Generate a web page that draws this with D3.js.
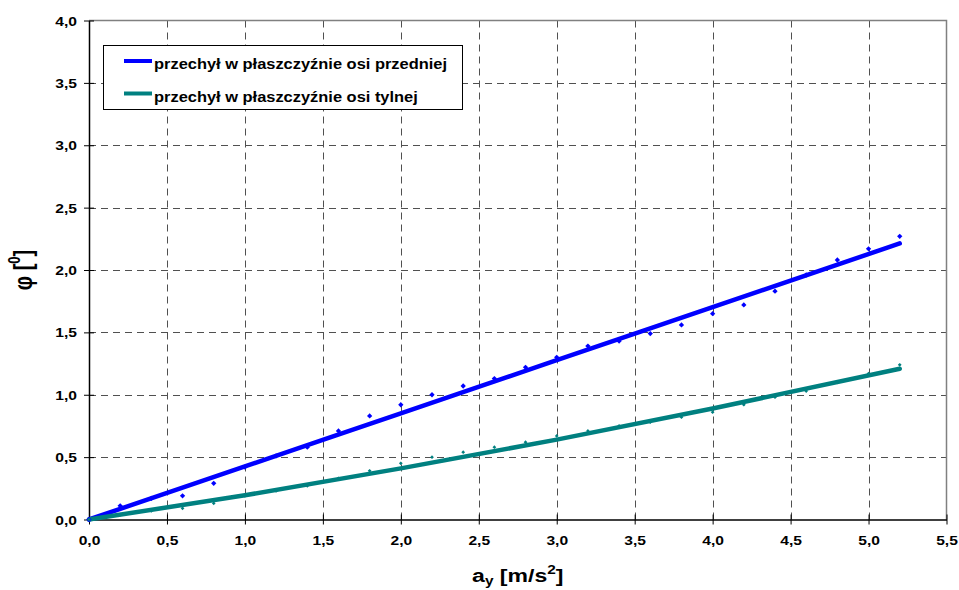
<!DOCTYPE html>
<html>
<head>
<meta charset="utf-8">
<script src="https://cdn.jsdelivr.net/npm/d3@7"></script>
<style>
body { margin: 0; background: #fff; }
text { font-family: "Liberation Sans", Arial, sans-serif; font-weight: bold; fill: #000; }
</style>
</head>
<body>
<script>
let w = 959;
let h = 590;

// measured points (a_y in m/s2, angle in degrees)
let accel = [0, 0.2, 0.4, 0.6, 0.8, 1.0, 1.2, 1.4, 1.6, 1.8, 2.0, 2.2, 2.4, 2.6, 2.8,
             3.0, 3.2, 3.4, 3.6, 3.8, 4.0, 4.2, 4.4, 4.6, 4.8, 5.0, 5.2];
let frontRoll = [0, 0.11, 0.17, 0.19, 0.29, 0.42, 0.51, 0.58, 0.71, 0.83, 0.92, 1.00, 1.07, 1.13, 1.22,
                 1.30, 1.39, 1.43, 1.49, 1.56, 1.65, 1.72, 1.83, 1.96, 2.08, 2.17, 2.27];
let rearRoll = [0, 0.04, 0.07, 0.09, 0.13, 0.19, 0.23, 0.27, 0.33, 0.39, 0.45, 0.50, 0.54, 0.58, 0.62,
                0.67, 0.71, 0.75, 0.78, 0.82, 0.86, 0.92, 0.98, 1.03, 1.10, 1.17, 1.24];

// trend lines
let trendX = [0, 1, 2, 3, 4, 5.2];
let frontTrend = [0, 0.426, 0.851, 1.277, 1.702, 2.213];
let rearTrend = [0, 0.194, 0.41, 0.64, 0.89, 1.208];

let xTickValues = [0, 0.5, 1.0, 1.5, 2.0, 2.5, 3.0, 3.5, 4.0, 4.5, 5.0, 5.5];
let yTickValues = [0, 0.5, 1.0, 1.5, 2.0, 2.5, 3.0, 3.5, 4.0];

let seriesNames = ["przechył w płaszczyźnie osi przedniej", "przechył w płaszczyźnie osi tylnej"];
let seriesColors = ["#0000ff", "#008080"];

let pLeft = 89, pRight = 946.5, pTop = 20.5, pBottom = 519.5;

let xScale = d3.scaleLinear().domain([0, 5.5]).range([pLeft, pRight]);
let yScale = d3.scaleLinear().domain([0, 4]).range([pBottom, pTop]);

let comma = d => d3.format(".1f")(d).replace(".", ",");

let svg = d3.select("body")
    .append("svg")
    .attr("width", w)
    .attr("height", h);

// grid
svg.append("g")
    .selectAll("line")
    .data(xTickValues.filter(d => d > 0 && d < 5.5))
    .enter()
    .append("line")
    .attr("x1", d => Math.round(xScale(d)) + 0.5)
    .attr("x2", d => Math.round(xScale(d)) + 0.5)
    .attr("y1", pTop)
    .attr("y2", pBottom)
    .attr("stroke", "#505050")
    .attr("stroke-dasharray", "7,5");

svg.append("g")
    .selectAll("line")
    .data(yTickValues.filter(d => d > 0 && d < 4))
    .enter()
    .append("line")
    .attr("y1", d => Math.round(yScale(d)) + 0.5)
    .attr("y2", d => Math.round(yScale(d)) + 0.5)
    .attr("x1", pLeft)
    .attr("x2", pRight)
    .attr("stroke", "#505050")
    .attr("stroke-dasharray", "7,5");

// top / right border
svg.append("path")
    .attr("d", `M${pLeft},${pTop}H${pRight}V${pBottom}`)
    .attr("fill", "none")
    .attr("stroke", "#808080")
    .attr("stroke-width", 1.5);

// axes
let xAxis = svg.append("g")
    .attr("transform", `translate(0,${pBottom})`)
    .call(d3.axisBottom(xScale).tickValues(xTickValues).tickFormat(comma).tickSize(5).tickSizeOuter(0));

xAxis.select(".domain").attr("stroke", "#000").attr("stroke-width", 1.5);
xAxis.selectAll(".tick line").attr("y1", -5).attr("stroke", "#000");
xAxis.selectAll(".tick text")
    .attr("y", 0)
    .attr("dy", null)
    .attr("font-size", "12.5px")
    .attr("font-family", null)
    .attr("transform", "translate(0,25.5) scale(1.25,1)");

let yAxis = svg.append("g")
    .attr("transform", `translate(${pLeft},0)`)
    .call(d3.axisLeft(yScale).tickValues(yTickValues).tickFormat(comma).tickSize(5).tickSizeOuter(0));

yAxis.select(".domain").attr("stroke", "#000").attr("stroke-width", 1.5);
yAxis.selectAll(".tick line").attr("x1", 5).attr("stroke", "#000");
yAxis.selectAll(".tick text")
    .attr("x", 0)
    .attr("dy", "0.36em")
    .attr("font-size", "12.5px")
    .attr("font-family", null)
    .attr("transform", "translate(-12,0) scale(1.25,1)");

// trend lines
let trendLine = d3.line()
    .x(d => xScale(d[0]))
    .y(d => yScale(d[1]))
    .curve(d3.curveMonotoneX);

[frontTrend, rearTrend].forEach((vals, i) => {
    svg.append("path")
        .datum(trendX.map((x, j) => [x, vals[j]]))
        .attr("d", trendLine)
        .attr("fill", "none")
        .attr("stroke", seriesColors[i])
        .attr("stroke-width", 4.5)
        .attr("stroke-linecap", "round");
});

// measured points
[frontRoll, rearRoll].forEach((vals, i) => {
    svg.append("g")
        .selectAll("path")
        .data(accel.map((x, j) => [x, vals[j]]))
        .enter()
        .append("path")
        .attr("transform", d => `translate(${xScale(d[0])},${yScale(d[1])}) rotate(45)`)
        .attr("d", d3.symbol(d3.symbolSquare, i === 0 ? 14 : 7))
        .attr("fill", seriesColors[i]);
});

// legend
let legend = svg.append("g");
legend.append("rect")
    .attr("x", 103.5)
    .attr("y", 45.5)
    .attr("width", 359)
    .attr("height", 64)
    .attr("fill", "#fff")
    .attr("stroke", "#000");

seriesNames.forEach((name, i) => {
    let ly = 61 + i * 32.5;
    legend.append("line")
        .attr("x1", 124)
        .attr("x2", 152)
        .attr("y1", ly)
        .attr("y2", ly)
        .attr("stroke", seriesColors[i])
        .attr("stroke-width", 4);
    legend.append("text")
        .attr("transform", `translate(154,${ly + 8.3}) scale(1.15,1)`)
        .attr("font-size", "14.3px")
        .text(name);
});

// axis titles
let xTitle = svg.append("text")
    .attr("transform", `translate(${(pLeft + pRight) / 2},582) scale(1.28,1)`)
    .attr("text-anchor", "middle")
    .attr("font-size", "18px");
xTitle.append("tspan").text("a");
xTitle.append("tspan").attr("font-size", "12px").attr("dy", 3).text("y");
xTitle.append("tspan").attr("dy", -3).text(" [m/s");
xTitle.append("tspan").attr("font-size", "12px").attr("dy", -8).text("2");
xTitle.append("tspan").attr("dy", 8).text("]");

let yTitle = svg.append("text")
    .attr("transform", `translate(32,${(pTop + pBottom) / 2}) rotate(-90) scale(1,1.3)`)
    .attr("text-anchor", "middle")
    .attr("font-size", "20px");
yTitle.append("tspan").text("φ [");
yTitle.append("tspan").attr("font-size", "13px").attr("dy", -9).text("0");
yTitle.append("tspan").attr("dy", 9).text("]");
</script>
</body>
</html>
